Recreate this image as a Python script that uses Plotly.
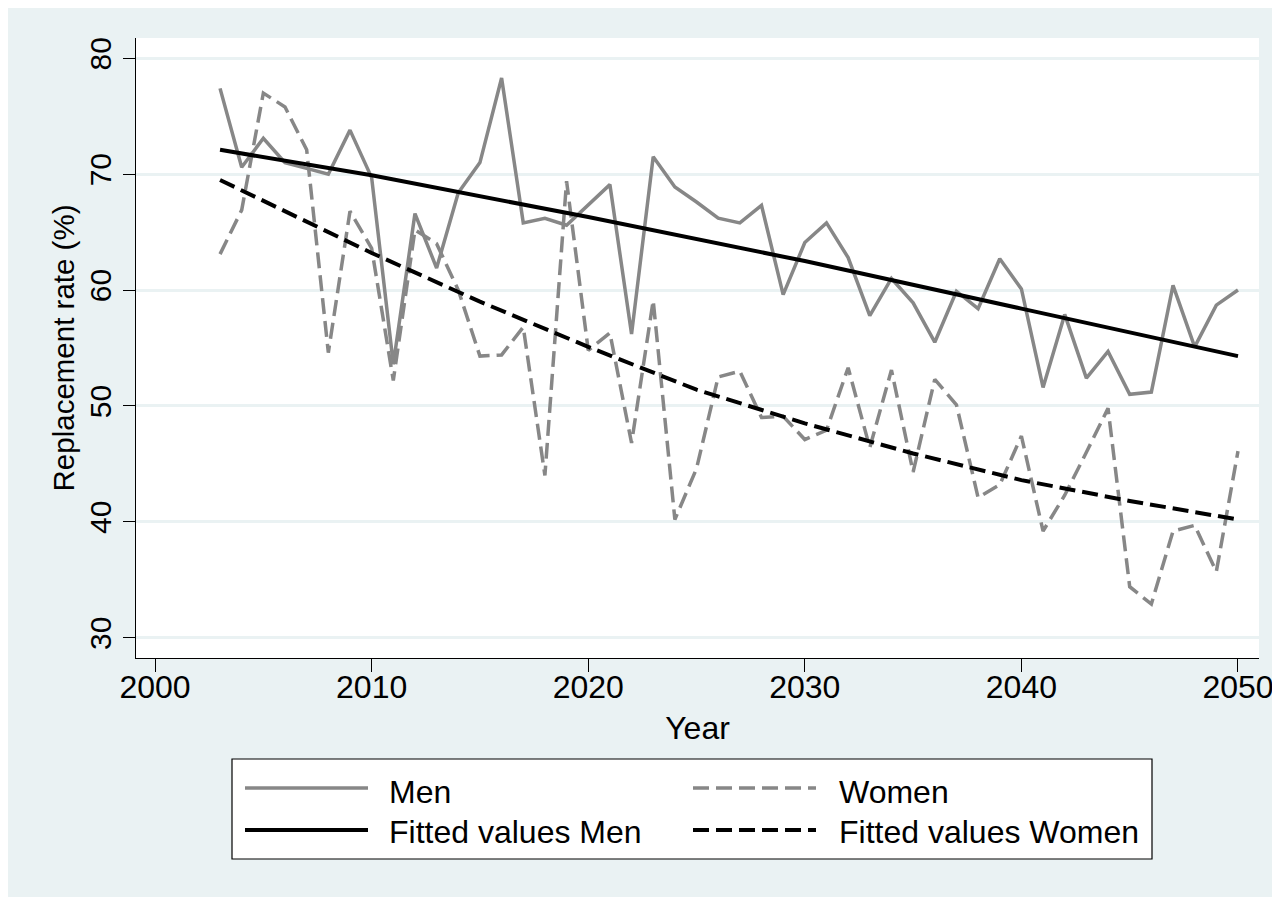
import plotly.graph_objects as go

# ---------------- data ----------------
years = list(range(2003, 2051))
men = [77.4, 70.6, 73.1, 71.0, 70.5, 70.0, 73.8, 69.7, 53.6, 66.6,
       61.9, 68.4, 71.0, 78.3, 65.8, 66.2, 65.6, 67.3, 69.1, 56.2,
       71.5, 68.9, 67.6, 66.2, 65.8, 67.3, 59.6, 64.1, 65.8, 62.8,
       57.8, 61.0, 58.9, 55.5, 59.9, 58.4, 62.7, 60.1, 51.6, 57.9,
       52.4, 54.7, 51.0, 51.2, 60.4, 55.1, 58.7, 60.0]
women = [63.1, 66.9, 77.0, 75.8, 72.1, 54.6, 66.8, 63.6, 52.2, 65.2,
         64.0, 60.0, 54.3, 54.4, 56.8, 44.0, 69.4, 54.8, 56.3, 46.8,
         59.1, 40.2, 44.6, 52.5, 53.0, 49.0, 49.1, 47.1, 47.9, 53.3,
         46.4, 53.1, 44.3, 52.3, 50.1, 42.1, 43.2, 47.4, 39.2, 42.3,
         46.0, 49.8, 34.4, 32.9, 39.2, 39.7, 35.7, 46.1]
fit_men_years = [2003, 2010, 2020, 2030, 2040, 2050]
fit_men = [72.1, 69.9, 66.3, 62.5, 58.4, 54.3]
fit_women_years = [2003, 2010, 2015, 2020, 2025, 2030, 2035, 2040, 2045, 2050]
fit_women = [69.5, 63.2, 59.0, 55.1, 51.4, 48.5, 45.9, 43.6, 41.8, 40.2]
x_ticks = [2000, 2010, 2020, 2030, 2040, 2050]
y_ticks = [30, 40, 50, 60, 70, 80]
legend_labels = ["Men", "Women", "Fitted values Men", "Fitted values Women"]
x_title = "Year"
y_title = "Replacement rate (%)"

# ---------------- style ----------------
OX, OY = 8, 8            # page body margin offset
W, H = 1272, 889         # figure size
L, R, T, B = 128, 21, 30, 239
BG = "#EAF2F3"
GRAY = "#878787"
FONT = "Liberation Sans, Arial, Helvetica, sans-serif"
DASH = "16px,7px"

def px_x(px):
    return (px - OX - L) / (W - L - R)

def px_y(py):
    return (H - B - (py - OY)) / (H - T - B)

fig = go.Figure()
fig.add_trace(go.Scatter(x=years, y=men, mode="lines", name=legend_labels[0],
                         line=dict(color=GRAY, width=3.5), showlegend=False))
fig.add_trace(go.Scatter(x=years, y=women, mode="lines", name=legend_labels[1],
                         line=dict(color=GRAY, width=3.5, dash=DASH), showlegend=False))
fig.add_trace(go.Scatter(x=fit_men_years, y=fit_men, mode="lines", name=legend_labels[2],
                         line=dict(color="black", width=4), showlegend=False))
fig.add_trace(go.Scatter(x=fit_women_years, y=fit_women, mode="lines", name=legend_labels[3],
                         line=dict(color="black", width=4, dash=DASH), showlegend=False))

fig.update_layout(
    width=W, height=H,
    margin=dict(l=L, r=R, t=T, b=B, pad=0),
    paper_bgcolor=BG, plot_bgcolor="white",
    font=dict(family=FONT, color="black", size=32),
    showlegend=False,
)
fig.update_xaxes(
    range=[1999.12, 2050.97], tickvals=x_ticks, ticktext=[str(v) for v in x_ticks],
    ticks="outside", ticklen=13, tickwidth=1.3, tickcolor="black",
    ticklabelstandoff=-13,
    showline=True, linecolor="black", linewidth=1.3, mirror=False,
    showgrid=False, zeroline=False, automargin=False,
    tickfont=dict(size=32, family=FONT),
    title=dict(text=x_title, font=dict(size=32, family=FONT), standoff=13),
)
fig.update_yaxes(
    range=[28.25, 81.75], tickvals=y_ticks, ticktext=[str(v) for v in y_ticks],
    ticks="outside", ticklen=12, tickwidth=1.3, tickcolor="black", tickangle=-90,
    showline=True, linecolor="black", linewidth=1.3, mirror=False,
    showgrid=True, gridcolor=BG, gridwidth=2.5, zeroline=False, automargin=False,
    tickfont=dict(size=30, family=FONT),
    title=dict(text=y_title, font=dict(size=29.5, family=FONT), standoff=0),
)

shapes = []
# legend box
shapes.append(dict(type="rect", xref="paper", yref="paper",
                   x0=px_x(232), x1=px_x(1152), y0=px_y(859), y1=px_y(759),
                   fillcolor="white", line=dict(color="black", width=1.2), layer="above"))
leg_styles = [(GRAY, 3.5, "solid"), (GRAY, 3.5, DASH), ("black", 4, "solid"), ("black", 4, DASH)]
row_y = [788, 830]
text_y = [792, 832]
col_x = [(245, 368, 387), (693, 816, 837)]
annotations = []
for i, lab in enumerate(legend_labels):
    r, c = divmod(i, 2)
    col, wid, dash = leg_styles[i]
    x0, x1, tx = col_x[c]
    shapes.append(dict(type="line", xref="paper", yref="paper",
                       x0=px_x(x0), x1=px_x(x1), y0=px_y(row_y[r]), y1=px_y(row_y[r]),
                       line=dict(color=col, width=wid, dash=dash), layer="above"))
    annotations.append(dict(text=lab, xref="paper", yref="paper", x=px_x(tx), y=px_y(text_y[r]),
                            xanchor="left", yanchor="middle", showarrow=False,
                            font=dict(size=32, family=FONT, color="black")))
fig.update_layout(shapes=shapes, annotations=annotations)

fig.write_html("out.html")
